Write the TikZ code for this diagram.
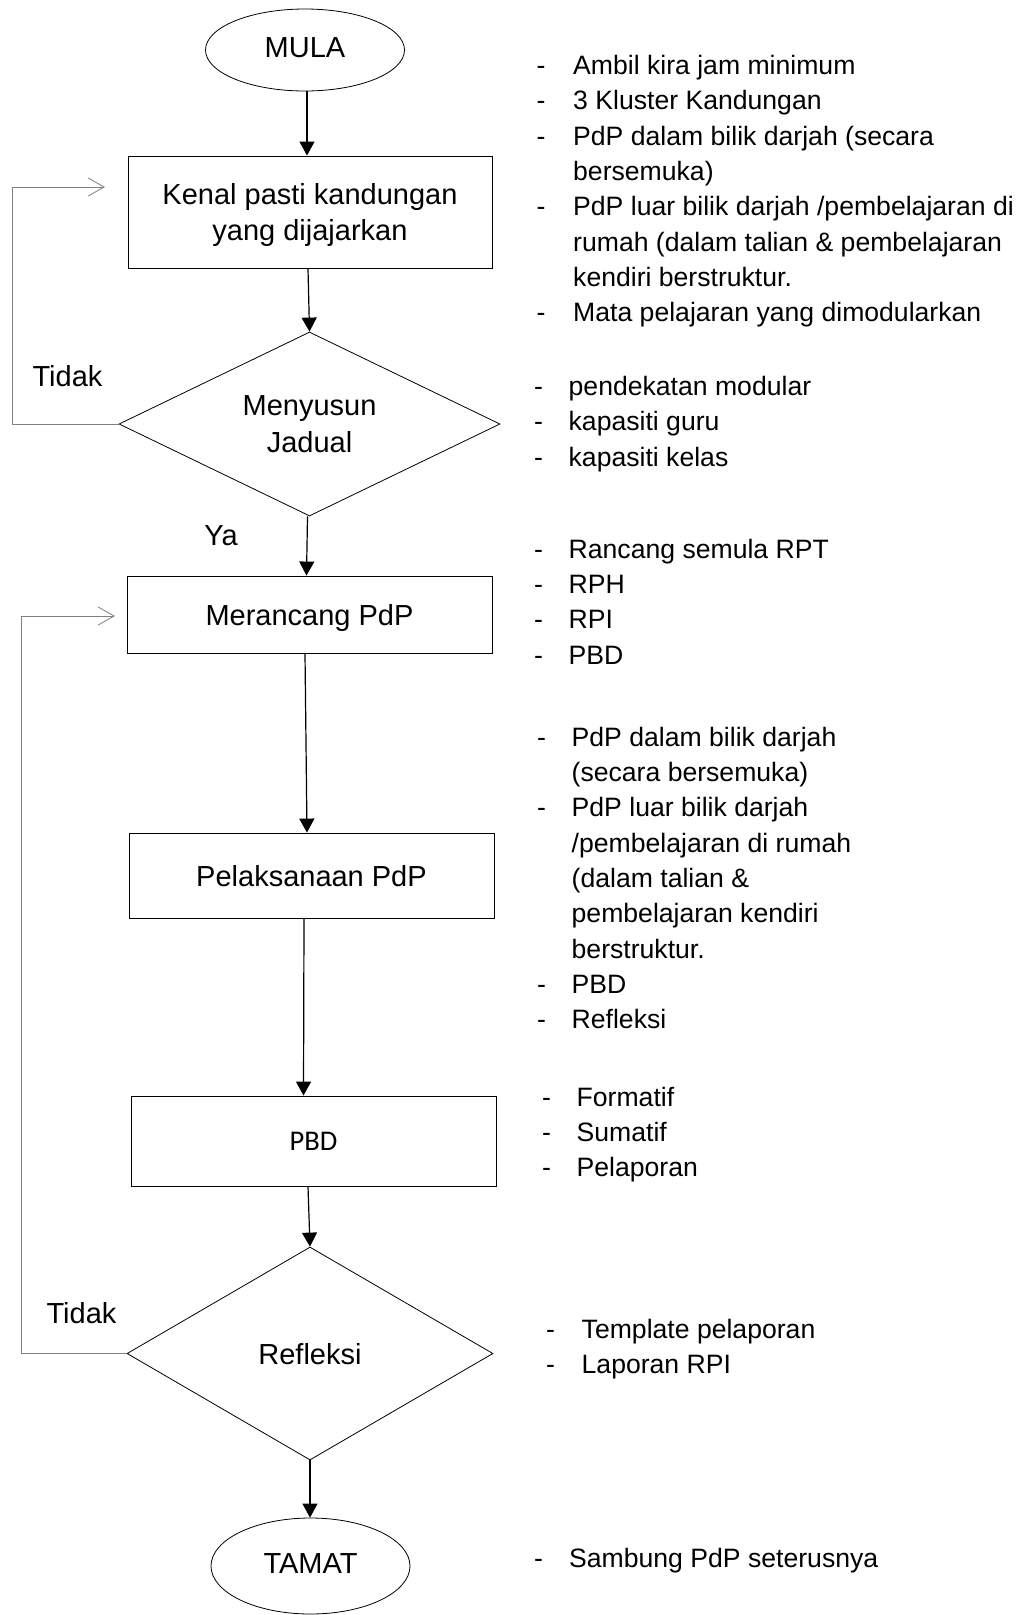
\documentclass[tikz,border=0pt]{standalone}
\usepackage{fontspec}
\setmainfont{Liberation Sans}
\newfontfamily\pbdfont{Carlito}
\usetikzlibrary{shapes.geometric,arrows.meta}
\begin{document}
\begin{tikzpicture}[x=1pt,y=-1pt,
  box/.style={draw, line width=0.9pt, inner sep=0pt, align=center, text depth=0pt, font=\fontsize{29}{35.5}\selectfont},
  dia/.style={draw, shape=diamond, shape aspect=2, line width=0.8pt, inner sep=0pt, align=center, text depth=0pt, font=\fontsize{29}{37}\selectfont},
  term/.style={draw, ellipse, line width=0.8pt, inner sep=0pt, text height=15pt, text depth=0pt, font=\fontsize{29}{35}\selectfont},
  lbl/.style={inner sep=0pt, font=\fontsize{29}{35}\selectfont},
  lst/.style={anchor=base west, inner sep=0pt, font=\fontsize{26.6}{35.35}\selectfont},
  arr/.style={line width=1.2pt, -{Triangle[length=14pt,width=15pt]}},
  fb/.style={draw={rgb,255:red,128;green,128;blue,128}, line width=0.8pt, -{Straight Barb[length=16pt,width=18pt]}}
]
\path[fill=white, use as bounding box] (0,0) rectangle (1033,1615);

% flow nodes
\node[term, minimum width=199pt, minimum height=82pt] (mula) at (305,50) {MULA};
\node[box, minimum width=364pt, minimum height=112pt] (kenal) at (310,212) {Kenal pasti kandungan\\yang dijajarkan};
\node[dia, minimum width=381pt, minimum height=184pt] (d1) at (309.5,424) {Menyusun\\Jadual};
\node[box, minimum width=365pt, minimum height=77pt] (meran) at (309.5,614.5) {Merancang PdP};
\node[box, minimum width=365pt, minimum height=85pt] (pelak) at (311.5,875.5) {Pelaksanaan PdP};
\node[box, minimum width=365pt, minimum height=90pt, font=\pbdfont\fontsize{28.5}{34}\selectfont] (pbd) at (313.5,1141) {PBD};
\node[dia, minimum width=366pt, minimum height=213pt] (d2) at (310,1353.5) {Refleksi};
\node[term, minimum width=199pt, minimum height=96pt] (tamat) at (310.5,1566) {TAMAT};

% labels
\node[lbl] (tidak1) at (67.5,376) {Tidak};
\node[lbl] (ya) at (221,536) {Ya};
\node[lbl] (tidak2) at (81.5,1313) {Tidak};

% main arrows
\draw[arr] ([xshift=2pt]mula.south) -- ([xshift=-3pt]kenal.north);
\draw[arr] ([xshift=-2pt]kenal.south) -- (d1.north);
\draw[arr] ([xshift=-2pt]d1.south) -- ([xshift=-3pt]meran.north);
\draw[arr] ([xshift=-4.5pt]meran.south) -- ([xshift=-4.5pt]pelak.north);
\draw[arr] ([xshift=-7.5pt]pelak.south) -- ([xshift=-10pt]pbd.north);
\draw[arr] ([xshift=-5.5pt]pbd.south) -- (d2.north);
\draw[arr] (d2.south) -- ([xshift=-0.5pt]tamat.north);

% feedback loops
\coordinate (fbA) at (105,187);
\coordinate (fbB) at (115,616);
\draw[fb] (d1.west) -- ++(-106,0) |- (fbA);
\draw[fb] (d2.west) -- ++(-105,0) |- (fbB);

% side notes
\node[lst] (n1) at (536.5,74.3) {\begin{tabular}[t]{@{}l@{}l@{}}
\makebox[36.5pt][l]{-} & Ambil kira jam minimum\\
- & 3 Kluster Kandungan\\
- & PdP dalam bilik darjah (secara\\
  & bersemuka)\\
- & PdP luar bilik darjah /pembelajaran di\\
  & rumah (dalam talian \& pembelajaran\\
  & kendiri berstruktur.\\
- & Mata pelajaran yang dimodularkan
\end{tabular}};

\node[lst] (n2) at (534,395.3) {\begin{tabular}[t]{@{}l@{}l@{}}
\makebox[34.5pt][l]{-} & pendekatan modular\\
- & kapasiti guru\\
- & kapasiti kelas
\end{tabular}};

\node[lst] (n3) at (534,558) {\begin{tabular}[t]{@{}l@{}l@{}}
\makebox[34.5pt][l]{-} & Rancang semula RPT\\
- & RPH\\
- & RPI\\
- & PBD
\end{tabular}};

\node[lst] (n4) at (537,746) {\begin{tabular}[t]{@{}l@{}l@{}}
\makebox[34.5pt][l]{-} & PdP dalam bilik darjah\\
  & (secara bersemuka)\\
- & PdP luar bilik darjah\\
  & /pembelajaran di rumah\\
  & (dalam talian \&\\
  & pembelajaran kendiri\\
  & berstruktur.\\
- & PBD\\
- & Refleksi
\end{tabular}};

\node[lst] (n5) at (542,1106) {\begin{tabular}[t]{@{}l@{}l@{}}
\makebox[34.5pt][l]{-} & Formatif\\
- & Sumatif\\
- & Pelaporan
\end{tabular}};

\node[lst] (n6) at (546,1338) {\begin{tabular}[t]{@{}l@{}l@{}}
\makebox[35.5pt][l]{-} & Template pelaporan\\
- & Laporan RPI
\end{tabular}};

\node[lst] (n7) at (534,1567) {\begin{tabular}[t]{@{}l@{}l@{}}
\makebox[35pt][l]{-} & Sambung PdP seterusnya
\end{tabular}};
\end{tikzpicture}
\end{document}
